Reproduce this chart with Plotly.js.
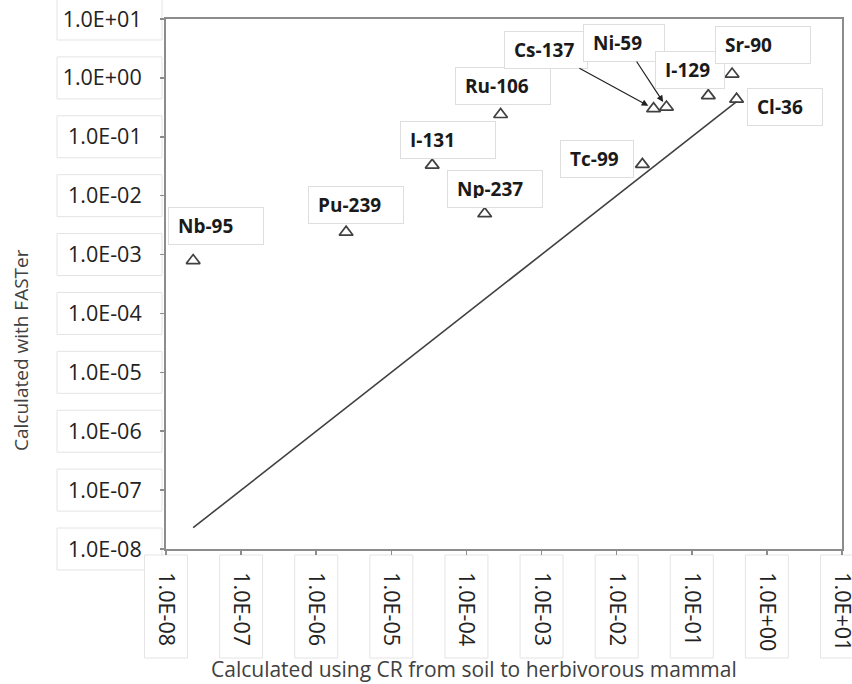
<!DOCTYPE html>
<html><head><meta charset="utf-8">
<script src="https://cdn.plot.ly/plotly-3.0.1.min.js"></script>
<style>html,body{margin:0;padding:0;background:#fff}</style>
</head><body><div id="chart" style="width:852px;height:684px"></div>
<script>
// ---- data ----
const nuclides = ['Nb-95','Pu-239','Np-237','I-131','Ru-106','Tc-99','Cs-137','Ni-59','I-129','Sr-90','Cl-36'];
const crValues = [2.3e-8, 2.5e-6, 1.75e-4, 3.5e-5, 2.85e-4, 0.022, 0.031, 0.046, 0.166, 0.344, 0.395];
const fasterValues = [7.9e-4, 2.4e-3, 4.95e-3, 0.033, 0.239, 0.034, 0.30, 0.32, 0.50, 1.16, 0.435];
const tickValues = [1e-8, 1e-7, 1e-6, 1e-5, 1e-4, 1e-3, 1e-2, 1e-1, 1e0, 1e1];
const tickLabels = ['1.0E-08','1.0E-07','1.0E-06','1.0E-05','1.0E-04','1.0E-03','1.0E-02','1.0E-01','1.0E+00','1.0E+01'];
const xTitle = 'Calculated using CR from soil to herbivorous mammal';
const yTitle = 'Calculated with FASTer';

// ---- label placement (pixel offsets of label box centre from its point) ----
const labelStyle = {
  'Nb-95':  {dx: 23,  dy: -35, w: 76},
  'Pu-239': {dx: 10,  dy: -27, w: 76},
  'Np-237': {dx: 10,  dy: -25, w: 76},
  'I-131':  {dx: 16,  dy: -25, w: 76},
  'Ru-106': {dx: 2,   dy: -28, w: 76},
  'Tc-99':  {dx: -45, dy: -5,  w: 54},
  'Cs-137': {arrow: true, ax: -108, ay: -59, w: 64},
  'Ni-59':  {arrow: true, ax: -42,  ay: -64, w: 62},
  'I-129':  {dx: -18, dy: -26, w: 50},
  'Sr-90':  {dx: 31,  dy: -29, w: 76},
  'Cl-36':  {dx: 48,  dy: 8,   w: 56}
};

const ink = '#404040';
const font = 'Open Sans, Noto Sans, sans-serif';

const diag = [Math.min(...crValues), Math.max(...crValues)];

const traces = [
  {x: diag, y: diag, mode: 'lines', type: 'scatter',
   line: {color: ink, width: 1.6}, hoverinfo: 'skip', showlegend: false},
  {x: crValues, y: fasterValues, mode: 'markers', type: 'scatter', text: nuclides,
   marker: {symbol: 'triangle-up-open', size: 12, color: ink, line: {width: 1.7, color: ink}},
   showlegend: false}
];

const annotations = nuclides.map((n, i) => {
  const s = labelStyle[n];
  const a = {
    x: Math.log10(crValues[i]), y: Math.log10(fasterValues[i]), xref: 'x', yref: 'y',
    text: '<b>' + n + '</b>', font: {family: font, size: 19, color: '#1a1a1a'},
    bgcolor: '#ffffff', bordercolor: '#dedede', borderwidth: 1, borderpad: 9,
    width: s.w, height: 18, align: 'left'
  };
  if (s.arrow) {
    Object.assign(a, {showarrow: true, ax: s.ax, ay: s.ay, arrowhead: 2, arrowsize: 1.1,
      arrowwidth: 1.2, arrowcolor: '#222', standoff: 6});
  } else {
    Object.assign(a, {showarrow: false, xshift: s.dx, yshift: -s.dy});
  }
  return a;
});

annotations.push({text: xTitle, xref: 'paper', yref: 'paper', x: 0.4556, y: -0.2264,
  xanchor: 'center', yanchor: 'middle', showarrow: false,
  font: {family: font, size: 21, color: ink}});
annotations.push({text: yTitle, xref: 'paper', yref: 'paper', x: -0.2145, y: 0.3755,
  xanchor: 'center', yanchor: 'middle', showarrow: false, textangle: -90,
  font: {family: font, size: 19, color: ink}});

// faint boxes behind tick labels
const shapes = [];
tickValues.forEach(v => {
  const p = (Math.log10(v) + 8) / 9;
  shapes.push({type: 'rect', xref: 'paper', yref: 'paper', layer: 'below',
    x0: -0.1612, x1: -0.0059, y0: p - 0.0396, y1: p + 0.0396,
    fillcolor: '#ffffff', line: {color: '#e4e4e4', width: 1}});
  shapes.push({type: 'rect', xref: 'paper', yref: 'paper', layer: 'below',
    x0: p - 0.0318, x1: p + 0.0318, y0: -0.2057, y1: -0.0113,
    fillcolor: '#ffffff', line: {color: '#e4e4e4', width: 1}});
});

const axisCommon = {
  type: 'log', range: [-8, 1], tickvals: tickValues, ticktext: tickLabels,
  ticks: 'outside', ticklen: 4, tickwidth: 1.5, tickcolor: '#8c8c8c',
  showline: true, linecolor: '#8c8c8c', linewidth: 2, mirror: true,
  showgrid: false, zeroline: false, ticklabeloverflow: 'allow',
  tickfont: {family: font, size: 21.5, color: '#222'}
};

const layout = {
  width: 852, height: 684,
  margin: {l: 166, r: 10, t: 19, b: 135},
  paper_bgcolor: '#ffffff', plot_bgcolor: '#ffffff',
  xaxis: Object.assign({}, axisCommon, {tickangle: 90, ticklabelstandoff: 13}),
  yaxis: Object.assign({}, axisCommon, {ticklabelstandoff: 14}),
  annotations: annotations,
  shapes: shapes,
  showlegend: false
};

Plotly.newPlot('chart', traces, layout, {displayModeBar: false, staticPlot: true});
</script>
</body></html>
